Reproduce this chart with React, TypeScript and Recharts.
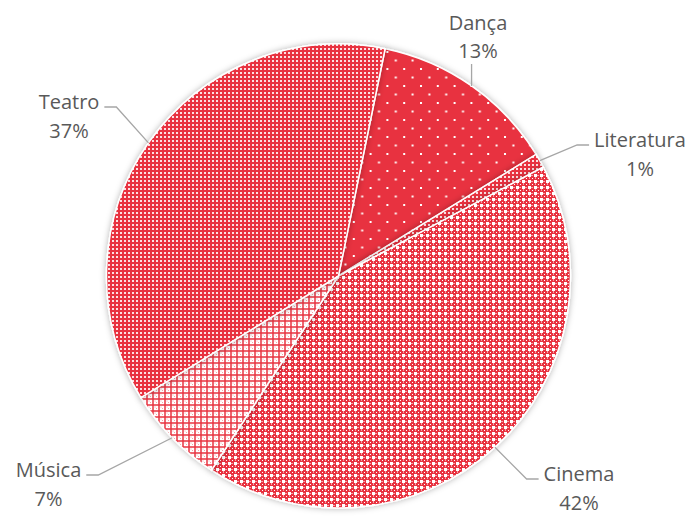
import { PieChart, Pie, Cell } from "recharts"

const CATEGORIES = ["Dança", "Literatura", "Cinema", "Música", "Teatro"]
const SHARES = [13, 1, 42, 7, 37]

const data = CATEGORIES.map((name, i) => ({ name, value: SHARES[i] }))

const RED = "#e8323f"
const PINK = "#f4a2a8"
const TEXT = "#595959"
const LINE = "#a6a6a6"
const FONT = "'Open Sans', sans-serif"
const FONT_SIZE = 20
const LINE_GAP = 28.5

const FILLS: Record<string, string> = {
  Dança: "url(#pDanca)",
  Literatura: "url(#pTeatro)",
  Cinema: "url(#pCinema)",
  Música: "url(#pMusica)",
  Teatro: "url(#pTeatro)",
}

// label placement (first-line baseline, relative to pie centre), Excel "best fit" style
const LABEL_POS: Record<string, { dx: number; dy: number }> = {
  Dança: { dx: 139.5, dy: -246.5 },
  Literatura: { dx: 301.5, dy: -129 },
  Cinema: { dx: 240.5, dy: 205 },
  Música: { dx: -290, dy: 201 },
  Teatro: { dx: -269.5, dy: -167 },
}

let ctx: CanvasRenderingContext2D | null = null
function textWidth(s: string) {
  if (!ctx) {
    ctx = document.createElement("canvas").getContext("2d")
    if (ctx) ctx.font = `${FONT_SIZE}px 'Open Sans'`
  }
  return ctx ? ctx.measureText(s).width : s.length * FONT_SIZE * 0.55
}

const RAD = Math.PI / 180

function renderLabel(props: any) {
  const { cx, cy, midAngle, outerRadius, name, percent } = props
  const ex = cx + outerRadius * Math.cos(-midAngle * RAD)
  const ey = cy + outerRadius * Math.sin(-midAngle * RAD)
  const pos = LABEL_POS[name]
  const lx = cx + pos.dx
  const ly = cy + pos.dy
  const pct = `${Math.round(percent * 100)}%`
  const half = textWidth(name) / 2

  let path: string
  if (Math.abs(ex - lx) < half) {
    // label sits straight above/below the slice
    const y0 = ey > ly ? ly + LINE_GAP + 6 : ly - FONT_SIZE
    path = `M${ex},${y0} L${ex},${ey}`
  } else {
    const ay = ly - 2
    const side = ex > lx ? 1 : -1
    const x0 = lx + side * (half + 5)
    const x1 = x0 + side * 12
    path = `M${x0},${ay} L${x1},${ay} L${ex},${ey}`
  }

  return (
    <g key={`lbl-${name}`}>
      <path d={path} stroke={LINE} strokeWidth={1.3} fill="none" />
      <text x={lx} y={ly} textAnchor="middle" fill={TEXT} fontFamily={FONT} fontSize={FONT_SIZE}>
        <tspan x={lx} y={ly}>{name}</tspan>
        <tspan x={lx} y={ly + LINE_GAP}>{pct}</tspan>
      </text>
    </g>
  )
}

function Patterns() {
  return (
    <svg width={0} height={0} style={{ position: "absolute" }}>
      <defs>
        <filter id="sh" x="-20%" y="-20%" width="140%" height="140%">
          <feDropShadow dx="0" dy="0" stdDeviation="3" floodColor="#000" floodOpacity="0.3" />
        </filter>
        <pattern id="pDanca" width="16.8" height="17" patternUnits="userSpaceOnUse">
          <rect width="16.8" height="17" fill={RED} />
          <rect x="0" y="0" width="2" height="2" fill="#fff" />
          <rect x="8.4" y="8.5" width="2" height="2" fill="#fff" />
        </pattern>
        <pattern id="pTeatro" width="4" height="4" patternUnits="userSpaceOnUse">
          <rect width="4" height="4" fill={RED} />
          <rect x="0" y="0" width="2" height="2" fill="#fff" fillOpacity={0.85} />
        </pattern>
        <pattern id="pCinema" width="6" height="6" patternUnits="userSpaceOnUse">
          <rect width="6" height="6" fill={RED} />
          <rect x="0" y="0" width="3" height="3" fill="#fff" />
          <rect x="3" y="1" width="2" height="1" fill={PINK} />
          <rect x="1" y="3" width="1" height="2" fill={PINK} />
          <rect x="4" y="4" width="1" height="1" fill="#fff" />
        </pattern>
        <pattern id="pMusica" width="6" height="6" patternUnits="userSpaceOnUse">
          <rect width="6" height="6" fill="#fff" />
          <rect x="2.25" y="0" width="1.5" height="6" fill={RED} />
          <rect x="0" y="2.25" width="6" height="1.5" fill={RED} />
          <rect x="0" y="0" width="1" height="1" fill={PINK} />
          <rect x="4.5" y="4.5" width="1" height="1" fill={PINK} />
        </pattern>
      </defs>
    </svg>
  )
}

export default function App() {
  return (
    <div style={{ position: "absolute", left: 0, top: 0, width: 691, height: 516, background: "#fff" }}>
      <Patterns />
      <PieChart width={691} height={516} margin={{ top: 0, right: 0, bottom: 0, left: 0 }}>
        <Pie
          data={data}
          dataKey="value"
          nameKey="name"
          cx={338.5}
          cy={276}
          outerRadius={232}
          startAngle={78.4}
          endAngle={-281.6}
          stroke="#fff"
          strokeWidth={1.5}
          label={renderLabel}
          labelLine={false}
          isAnimationActive={false}
        >
          {data.map((entry) => (
            <Cell key={entry.name} fill={FILLS[entry.name]} filter="url(#sh)" />
          ))}
        </Pie>
      </PieChart>
    </div>
  )
}
